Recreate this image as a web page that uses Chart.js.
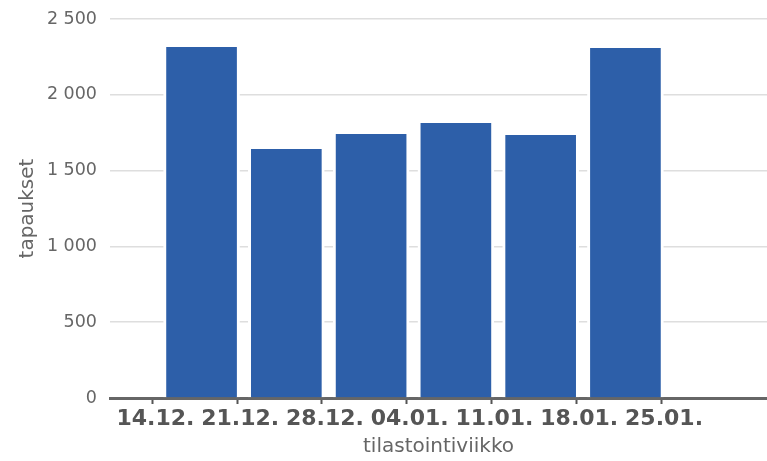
<!DOCTYPE html>
<html>
<head>
<meta charset="utf-8">
<script src="https://cdn.jsdelivr.net/npm/chart.js@4.4.1/dist/chart.umd.min.js"></script>
<style>
  html, body { margin: 0; padding: 0; background: #fff; }
  #wrap { width: 767px; height: 461px; position: relative; }
</style>
</head>
<body>
<div id="wrap"><canvas id="tapausChart"></canvas></div>
<script>
// Viikot ja tapausmäärät
const viikot = ["14.12.", "21.12.", "28.12.", "04.01.", "11.01.", "18.01.", "25.01."];
const tapaukset = [2315, 1642, 1741, 1814, 1735, 2309];
const yTicks = [0, 500, 1000, 1500, 2000, 2500];

Chart.defaults.font.family = '"DejaVu Sans", Verdana, sans-serif';
Chart.defaults.color = '#666';

const fmt = v => String(v).replace(/\B(?=(\d{3})+(?!\d))/g, ' ');

const ctx = document.getElementById("tapausChart").getContext('2d');
new Chart(ctx, {
    type: 'bar',
    data: {
        datasets: [{
            data: tapaukset.map((v, i) => ({ x: i + 0.58, y: v })),
            backgroundColor: '#2d5fa9',
            borderColor: '#ffffff',
            borderWidth: { left: 3, right: 3, top: 0, bottom: 0 },
            barThickness: 76
        }]
    },
    options: {
        responsive: true,
        maintainAspectRatio: false,
        animation: false,
        layout: { padding: { top: 19, right: 0, left: 0, bottom: 0 } },
        plugins: {
            legend: { display: false },
            tooltip: { enabled: false }
        },
        scales: {
            x: {
                type: 'linear',
                min: -0.5,
                max: 7.25,
                offset: false,
                afterBuildTicks: scale => {
                    scale.ticks = viikot.map((l, i) => ({ value: i }));
                },
                afterFit: scale => { scale.height = 63; },
                grid: {
                    offset: false,
                    drawOnChartArea: false,
                    drawTicks: true,
                    tickLength: 6,
                    tickColor: '#555',
                    tickWidth: 2
                },
                border: { color: '#666', width: 3 },
                ticks: {
                    autoSkip: false,
                    maxRotation: 0,
                    padding: 2,
                    labelOffset: 3,
                    color: '#555',
                    font: { size: 22, weight: 'bold' },
                    callback: v => viikot[v]
                },
                title: {
                    display: true,
                    text: 'tilastointiviikko',
                    color: '#666',
                    font: { size: 20 },
                    padding: { top: 0, bottom: 2 }
                }
            },
            y: {
                min: 0,
                max: 2500,
                afterBuildTicks: scale => {
                    scale.ticks = yTicks.map(v => ({ value: v }));
                },
                afterFit: scale => {
                    scale.width = 110;
                    scale.paddingTop = 0;
                    scale.paddingBottom = 0;
                },
                grid: { color: '#dedede', lineWidth: 1.5, drawTicks: false },
                border: { display: false },
                ticks: {
                    padding: 13,
                    color: '#666',
                    font: { size: 17.5 },
                    callback: v => fmt(v)
                },
                title: {
                    display: true,
                    text: 'tapaukset',
                    color: '#666',
                    font: { size: 20 },
                    padding: { top: 16, bottom: 0 }
                }
            }
        }
    }
});
</script>
</body>
</html>
